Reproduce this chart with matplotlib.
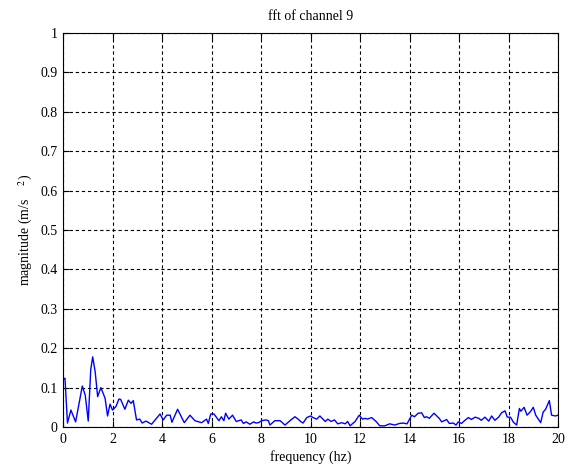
import matplotlib
matplotlib.use("Agg")
import matplotlib.pyplot as plt

freq = [0.0, 0.08, 0.18, 0.32, 0.51, 0.78, 0.9, 1.02, 1.12, 1.2, 1.3, 1.4, 1.53, 1.7, 1.8, 1.9,
        2.0, 2.14, 2.26, 2.33, 2.5, 2.64, 2.75, 2.84, 2.97, 3.1, 3.2, 3.35, 3.58, 3.92, 4.05,
        4.19, 4.33, 4.4, 4.63, 4.9, 5.13, 5.33, 5.6, 5.8, 5.87, 5.97, 6.1, 6.3, 6.4, 6.5,
        6.57, 6.7, 6.85, 7.0, 7.2, 7.29, 7.4, 7.55, 7.7, 7.8, 7.9, 8.03, 8.2, 8.3, 8.36,
        8.56, 8.77, 8.97, 9.17, 9.37, 9.5, 9.6, 9.7, 9.85, 10.0, 10.1, 10.25, 10.38, 10.5,
        10.6, 10.7, 10.83, 10.97, 11.1, 11.26, 11.4, 11.5, 11.6, 11.8, 11.97, 12.1, 12.2,
        12.3, 12.47, 12.65, 12.8, 13.0, 13.2, 13.4, 13.6, 13.75, 13.9, 14.09, 14.2, 14.35,
        14.49, 14.6, 14.69, 14.8, 14.99, 15.2, 15.3, 15.5, 15.61, 15.77, 15.88, 15.97, 16.1,
        16.24, 16.38, 16.5, 16.65, 16.8, 16.9, 17.05, 17.2, 17.32, 17.45, 17.6, 17.72, 17.86,
        17.95, 18.08, 18.2, 18.33, 18.44, 18.5, 18.63, 18.75, 18.9, 19.0, 19.1, 19.3, 19.4,
        19.5, 19.65, 19.74, 19.9, 20.0]
magnitude = [0.12, 0.124, 0.01, 0.043, 0.013, 0.104, 0.08, 0.015, 0.145, 0.178, 0.14, 0.077, 0.10,
             0.073, 0.028, 0.058, 0.043, 0.052, 0.071, 0.07, 0.045, 0.068, 0.06, 0.067, 0.018,
             0.02, 0.01, 0.015, 0.007, 0.033, 0.018, 0.03, 0.03, 0.012, 0.045, 0.011, 0.03,
             0.016, 0.011, 0.02, 0.009, 0.033, 0.033, 0.016, 0.026, 0.016, 0.035, 0.02, 0.03,
             0.014, 0.018, 0.009, 0.013, 0.007, 0.013, 0.01, 0.011, 0.016, 0.018, 0.016, 0.005,
             0.016, 0.016, 0.005, 0.016, 0.026, 0.02, 0.014, 0.01, 0.024, 0.028, 0.024, 0.02,
             0.028, 0.02, 0.014, 0.02, 0.014, 0.018, 0.008, 0.011, 0.008, 0.014, 0.003, 0.014,
             0.03, 0.02, 0.022, 0.02, 0.024, 0.014, 0.003, 0.003, 0.008, 0.005, 0.009, 0.01,
             0.008, 0.03, 0.026, 0.035, 0.036, 0.024, 0.026, 0.022, 0.035, 0.022, 0.013, 0.019,
             0.009, 0.01, 0.005, 0.013, 0.009, 0.017, 0.024, 0.019, 0.025, 0.022, 0.017, 0.025,
             0.015, 0.028, 0.017, 0.025, 0.036, 0.041, 0.025, 0.025, 0.012, 0.005, 0.047, 0.04,
             0.05, 0.03, 0.04, 0.05, 0.03, 0.011, 0.038, 0.045, 0.067, 0.03, 0.028, 0.03]

xticks = [0, 2, 4, 6, 8, 10, 12, 14, 16, 18, 20]
yticks = [0, 0.1, 0.2, 0.3, 0.4, 0.5, 0.6, 0.7, 0.8, 0.9, 1]

plt.rcParams['font.family'] = ['Liberation Serif', 'DejaVu Serif']
plt.rcParams['mathtext.fontset'] = 'stix'

fs = 10
fig = plt.figure(figsize=(5.73, 4.72), dpi=100)
ax = fig.add_axes([63/573, 45/472, 495/573, 394/472])
ax.plot(freq, magnitude, color='#0000ff', linewidth=1.0)
ax.set_xlim(0, 20)
ax.set_ylim(0, 1)
ax.set_xticks(xticks)
ax.set_yticks(yticks)
ax.set_xticklabels([str(t) for t in xticks])
ax.set_yticklabels(['0', '0.1', '0.2', '0.3', '0.4', '0.5', '0.6', '0.7', '0.8', '0.9', '1'])
ax.grid(True, color='black', linestyle=(0, (3, 2.5)), linewidth=0.8)
ax.tick_params(direction='in', top=True, right=True, length=4, labelsize=fs, width=0.8, pad=4)
for s in ax.spines.values():
    s.set_linewidth(0.8)
ax.set_title('fft of channel 9', fontsize=fs, pad=9)
ax.set_xlabel('frequency (hz)', fontsize=fs, labelpad=3)
ax.set_ylabel('magnitude (m/s    $^{2}$)', fontsize=fs, labelpad=4)
fig.savefig('out.png', dpi=100, facecolor='white')
